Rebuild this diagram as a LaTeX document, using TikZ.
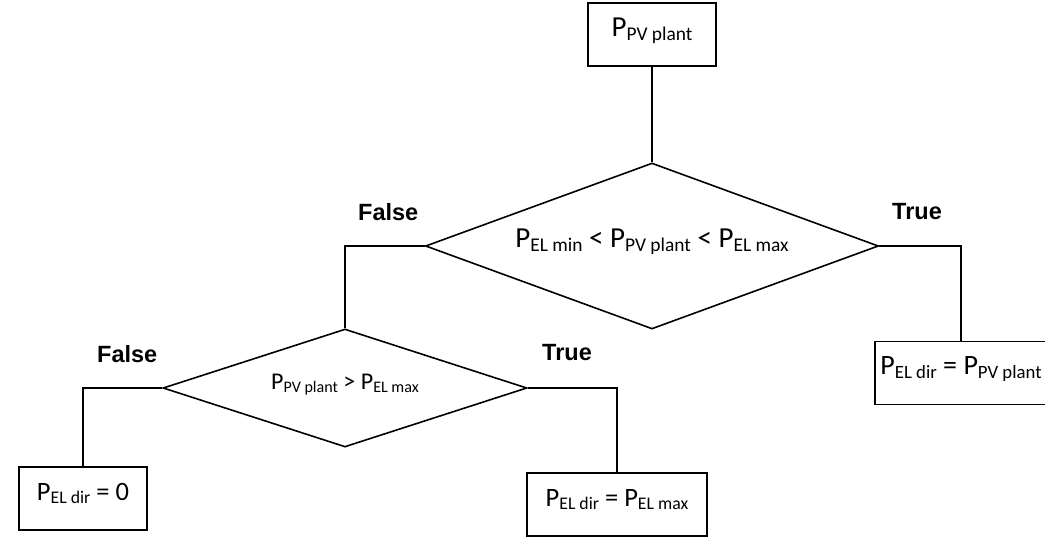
\documentclass[tikz,border=0pt]{standalone}
\usepackage{graphicx}
\usepackage{fontspec}
\setmainfont{Carlito}
\newfontfamily\lblfont{Liberation Sans}
\usetikzlibrary{shapes.geometric}
\newcommand\lowsub[1]{\raisebox{-0.14em}{\scalebox{0.67}{#1}}}
\newcommand\Pv[1]{P\lowsub{#1}}
\tikzset{
  box/.style={draw, line width=1.6pt, inner sep=0pt, minimum height=63pt, text height=0.75em, text depth=0.45em},
  dec/.style={draw, diamond, line width=1.6pt, inner sep=0pt, text height=0.75em, text depth=0.45em},
  lbl/.style={font=\lblfont\bfseries\fontsize{23.5}{28}\selectfont, inner sep=0pt, anchor=base west},
  conn/.style={line width=1.6pt},
  fa/.style={font=\fontsize{29}{34}\selectfont},
  fb/.style={font=\fontsize{28}{33}\selectfont},
  fc/.style={font=\fontsize{26.5}{31}\selectfont},
  fd/.style={font=\fontsize{24}{29}\selectfont},
}
\begin{document}
\begin{tikzpicture}[x=1pt,y=-1pt]
\useasboundingbox (0,0) rectangle (1045,541);
\node[box, fa, minimum width=128pt] (top) at (652,34.5) {\Pv{PV plant}};
\node[dec, fa, aspect=2.73, minimum width=453pt, minimum height=166pt] (bd) at (652,246)
  {\Pv{EL min} < \Pv{PV plant} < \Pv{EL max}};
\node[dec, fd, aspect=3.08, minimum width=364pt, minimum height=118pt] (sd) at (345,388)
  {\Pv{PV plant} > \Pv{EL max}};
\node[box, fb, minimum width=172pt] (rb) at (961,373) {\Pv{EL dir} = \Pv{PV plant}};
\node[box, fc, minimum width=128pt] (lb) at (83,498.5) {\Pv{EL dir} = 0};
\node[box, fc, minimum width=180pt] (mb) at (617,504.5) {\Pv{EL dir} = \Pv{EL max}};
\draw[conn] (top.south) -- (bd.north);
\draw[conn] (bd.west) -| (sd.north);
\draw[conn] (bd.east) -| (rb.north);
\draw[conn] (sd.west) -| (lb.north);
\draw[conn] (sd.east) -| (mb.north);
\node[lbl] (f1) at (358,220) {False};
\node[lbl] (t1) at (892,219) {True};
\node[lbl] (f2) at (97,362) {False};
\node[lbl] (t2) at (542,360) {True};
\end{tikzpicture}
\end{document}
